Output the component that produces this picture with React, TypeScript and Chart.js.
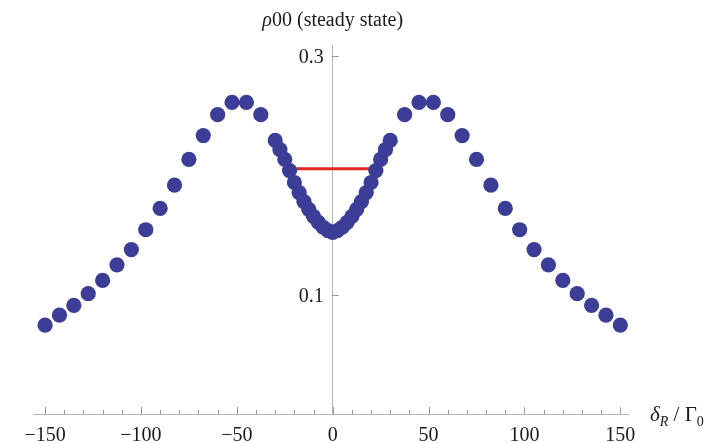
import React, { useEffect, useRef } from 'react';
import { Chart, registerables } from 'chart.js';

Chart.register(...registerables);

// Detuning values δR / Γ0
const detuning: number[] = [
  -150, -142.5, -135, -127.5, -120, -112.5, -105, -97.5, -90, -82.5, -75, -67.5, -60, -52.5, -45, -37.5, -30,
  -27.5, -25, -22.5, -20, -17.5, -15, -12.5, -10, -7.5, -5, -2.5, 0,
  2.5, 5, 7.5, 10, 12.5, 15, 17.5, 20, 22.5, 25, 27.5,
  30, 37.5, 45, 52.5, 60, 67.5, 75, 82.5, 90, 97.5, 105, 112.5, 120, 127.5, 135, 142.5, 150,
];

// Steady-state population ρ00
const population: number[] = [
  0.0744, 0.0828, 0.0911, 0.1008, 0.1119, 0.125, 0.1378, 0.1544, 0.1723, 0.1917, 0.2133, 0.2333, 0.2508, 0.2611, 0.2611, 0.2508, 0.2292,
  0.2215, 0.2133, 0.204, 0.194, 0.1855, 0.178, 0.1715, 0.1655, 0.1605, 0.1565, 0.1537, 0.1522,
  0.1537, 0.1565, 0.1605, 0.1655, 0.1715, 0.178, 0.1855, 0.194, 0.204, 0.2133, 0.2215,
  0.2292, 0.2508, 0.2611, 0.2611, 0.2508, 0.2333, 0.2133, 0.1917, 0.1723, 0.1544, 0.1378, 0.125, 0.1119, 0.1008, 0.0911, 0.0828, 0.0744,
];

// Red horizontal marker
const markerX: number[] = [-23.5, 23.5];
const markerY: number[] = [0.2056, 0.2056];

// Axis ticks
const xTickValues: number[] = [
  -150, -140, -130, -120, -110, -100, -90, -80, -70, -60, -50, -40, -30, -20, -10, 0,
  10, 20, 30, 40, 50, 60, 70, 80, 90, 100, 110, 120, 130, 140, 150,
];
const xLabelValues: number[] = [-150, -100, -50, 0, 50, 100, 150];
const xLabelTexts: string[] = ['\u2212150', '\u2212100', '\u221250', '0', '50', '100', '150'];
const yTickValues: number[] = [0.1, 0.3];
const yLabelTexts: string[] = ['0.1', '0.3'];

const X_MIN = -156.3;
const X_MAX = 154;
const Y_MIN = 0;
const Y_MAX = 0.3092;

const SERIF = "'Liberation Serif', 'Times New Roman', serif";
const AXIS_COLOR = '#b5b5b5';
const TEXT_COLOR = '#1a1a1a';

const decorations = {
  id: 'decorations',
  afterDraw(chart: any) {
    const ctx = chart.ctx as CanvasRenderingContext2D;
    const xs = chart.scales.x;
    const ys = chart.scales.y;
    const y0 = ys.getPixelForValue(0);
    const x0 = xs.getPixelForValue(0);
    ctx.save();
    // x tick marks (inward)
    ctx.strokeStyle = '#9a9a9a';
    ctx.lineWidth = 1;
    xTickValues.forEach((v) => {
      const px = Math.round(xs.getPixelForValue(v)) + 0.5;
      const major = xLabelValues.includes(v);
      ctx.beginPath();
      ctx.moveTo(px, y0);
      ctx.lineTo(px, y0 - (major ? 7 : 4));
      ctx.stroke();
    });
    // y tick marks and labels
    ctx.fillStyle = TEXT_COLOR;
    ctx.font = `20px ${SERIF}`;
    ctx.textAlign = 'right';
    ctx.textBaseline = 'middle';
    yTickValues.forEach((v, i) => {
      const py = Math.round(ys.getPixelForValue(v)) + 0.5;
      ctx.beginPath();
      ctx.moveTo(x0 - 1, py);
      ctx.lineTo(x0 + 6, py);
      ctx.stroke();
      ctx.fillText(yLabelTexts[i], x0 - 9, py + 1);
    });

    ctx.textBaseline = 'alphabetic';
    // y axis title: ρ00 (steady state)
    const titleFont = `20px ${SERIF}`;
    const titleItal = `italic 20px ${SERIF}`;
    ctx.font = titleItal;
    const wRho = ctx.measureText('\u03C1').width;
    ctx.font = titleFont;
    const rest = '00 (steady state)';
    const wRest = ctx.measureText(rest).width;
    let tx = x0 - (wRho + wRest) / 2;
    const ty = 26;
    ctx.textAlign = 'left';
    ctx.font = titleItal;
    ctx.fillText('\u03C1', tx, ty);
    tx += wRho;
    ctx.font = titleFont;
    ctx.fillText(rest, tx, ty);

    // x axis title: δR / Γ0
    let lx = 650;
    const ly = y0 + 7;
    ctx.font = `italic 21px ${SERIF}`;
    ctx.fillText('\u03B4', lx, ly);
    lx += ctx.measureText('\u03B4').width;
    ctx.font = `italic 14px ${SERIF}`;
    ctx.fillText('R', lx, ly + 5);
    lx += ctx.measureText('R').width;
    ctx.font = `21px ${SERIF}`;
    ctx.fillText(' / \u0393', lx, ly);
    lx += ctx.measureText(' / \u0393').width;
    ctx.font = `14px ${SERIF}`;
    ctx.fillText('0', lx, ly + 5);
    ctx.restore();
  },
};

export default function App() {
  const canvasRef = useRef<HTMLCanvasElement | null>(null);

  useEffect(() => {
    document.body.style.margin = '0';
    const canvas = canvasRef.current;
    if (!canvas) return;
    const chart = new Chart(canvas, {
      type: 'scatter',
      data: {
        datasets: [
          {
            label: 'ρ00',
            data: detuning.map((x, i) => ({ x, y: population[i] })),
            backgroundColor: '#3b3d97',
            borderWidth: 0,
            pointRadius: 7.6,
            pointHoverRadius: 7.6,
            order: 1,
            clip: false as any,
          },
          {
            type: 'line' as any,
            label: 'marker',
            data: markerX.map((x, i) => ({ x, y: markerY[i] })),
            borderColor: '#e3261f',
            borderWidth: 3,
            pointRadius: 0,
            showLine: true,
            order: 2,
          } as any,
        ],
      },
      options: {
        responsive: false,
        animation: false,
        layout: { padding: { top: 45, left: 33, right: 97, bottom: 0 } },
        plugins: {
          legend: { display: false },
          tooltip: { enabled: false },
          title: { display: false },
        },
        scales: {
          x: {
            type: 'linear',
            min: X_MIN,
            max: X_MAX,
            afterBuildTicks: (s: any) => {
              s.ticks = xLabelValues.map((v) => ({ value: v }));
            },
            afterFit: (s: any) => {
              s.height = 29;
            },
            grid: { display: true, drawOnChartArea: false, drawTicks: false },
            border: { display: true, color: AXIS_COLOR, width: 1 },
            ticks: {
              autoSkip: false,
              maxRotation: 0,
              padding: 10,
              color: TEXT_COLOR,
              font: { family: SERIF, size: 20 },
              callback: (v: any) => {
                const i = xLabelValues.indexOf(Number(v));
                return i >= 0 ? xLabelTexts[i] : '';
              },
            },
          },
          y: {
            type: 'linear',
            min: Y_MIN,
            max: Y_MAX,
            position: { x: 0 } as any,
            afterBuildTicks: (s: any) => {
              s.ticks = yTickValues.map((v) => ({ value: v }));
            },
            grid: { display: true, drawOnChartArea: false, drawTicks: false },
            border: { display: true, color: AXIS_COLOR, width: 1 },
            ticks: { display: false },
          },
        },
      },
      plugins: [decorations],
    });
    return () => chart.destroy();
  }, []);

  return (
    <div style={{ width: 725, height: 443, background: '#fff' }}>
      <canvas ref={canvasRef} width={725} height={443} style={{ display: 'block' }} />
    </div>
  );
}
